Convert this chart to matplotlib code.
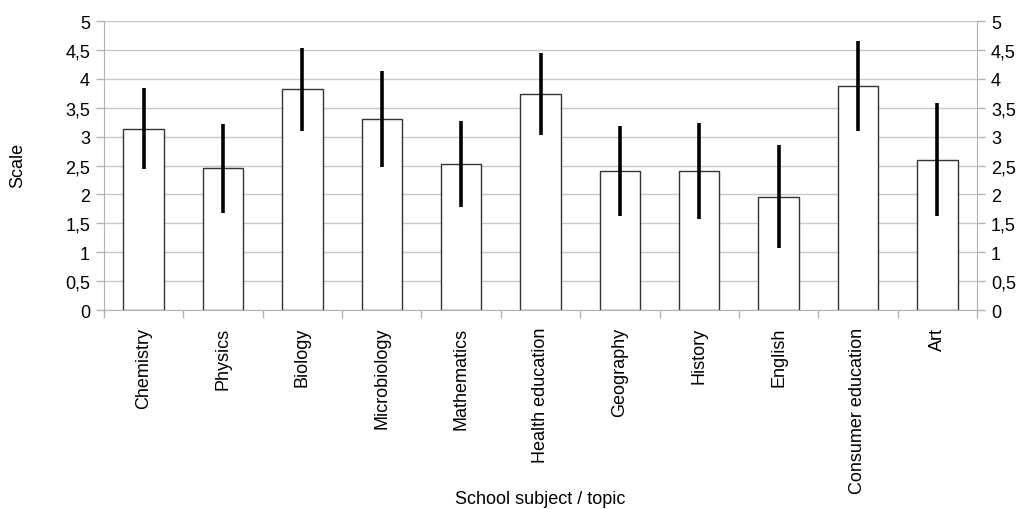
from matplotlib import pyplot as plt
from matplotlib.ticker import FuncFormatter, FixedLocator
import numpy as np

subjects = ['Chemistry', 'Physics', 'Biology', 'Microbiology', 'Mathematics',
            'Health education', 'Geography', 'History', 'English',
            'Consumer education', 'Art']
means = [3.14, 2.45, 3.82, 3.31, 2.53, 3.73, 2.41, 2.41, 1.96, 3.88, 2.60]
errors = [0.70, 0.77, 0.72, 0.83, 0.74, 0.71, 0.78, 0.83, 0.89, 0.78, 0.98]
y_ticks = [0, 0.5, 1, 1.5, 2, 2.5, 3, 3.5, 4, 4.5, 5]


def comma(v, pos):
    return ('%g' % v).replace('.', ',')


def main():
    plt.rcParams['font.family'] = ['Liberation Sans', 'DejaVu Sans']
    fs = 13
    fig = plt.figure(figsize=(10.33, 5.10), dpi=100)
    ax = fig.add_axes([104 / 1033, 1 - 311 / 510, 873 / 1033, 289 / 510])

    x = np.arange(len(subjects))
    ax.bar(x, means, width=0.51, color='white', edgecolor='#333333',
           linewidth=1.0, zorder=2)
    ax.errorbar(x, means, yerr=errors, fmt='none', ecolor='black',
                elinewidth=2.6, capsize=0, zorder=3)

    ax.set_xlim(-0.5, len(subjects) - 0.5)
    ax.set_ylim(0, 5)
    ax.set_yticks(y_ticks)
    ax.yaxis.set_major_formatter(FuncFormatter(comma))
    ax.grid(axis='y', color='#c8c8c8', linewidth=1.0, zorder=0)
    ax.set_axisbelow(True)

    # category labels centred, tick marks between categories
    ax.set_xticks(x)
    ax.set_xticklabels(subjects, rotation=90, fontsize=fs)
    ax.xaxis.set_minor_locator(FixedLocator(np.arange(-0.5, len(subjects), 1)))
    ax.tick_params(axis='x', which='major', length=0, pad=12)
    ax.tick_params(axis='x', which='minor', length=6, width=1, color='#b3b3b3')
    ax.tick_params(axis='y', length=6, width=1, color='#b3b3b3',
                   labelsize=fs, pad=4)

    for side in ['left', 'bottom']:
        ax.spines[side].set_color('#b3b3b3')
    for side in ['top', 'right']:
        ax.spines[side].set_visible(False)

    ax2 = ax.twinx()
    ax2.set_ylim(0, 5)
    ax2.set_yticks(y_ticks)
    ax2.yaxis.set_major_formatter(FuncFormatter(comma))
    ax2.tick_params(axis='y', length=6, width=1, color='#b3b3b3',
                    labelsize=fs, pad=4)
    ax2.spines['right'].set_color('#b3b3b3')
    for side in ['top', 'left', 'bottom']:
        ax2.spines[side].set_visible(False)

    fig.text(18 / 1033, 1 - 165 / 510, 'Scale', rotation=90, fontsize=fs,
             ha='center', va='center')
    fig.text(540 / 1033, 1 - 500 / 510, 'School subject / topic',
             fontsize=fs, ha='center', va='center')

    fig.savefig('out.png', dpi=100)


if __name__ == '__main__':
    main()
